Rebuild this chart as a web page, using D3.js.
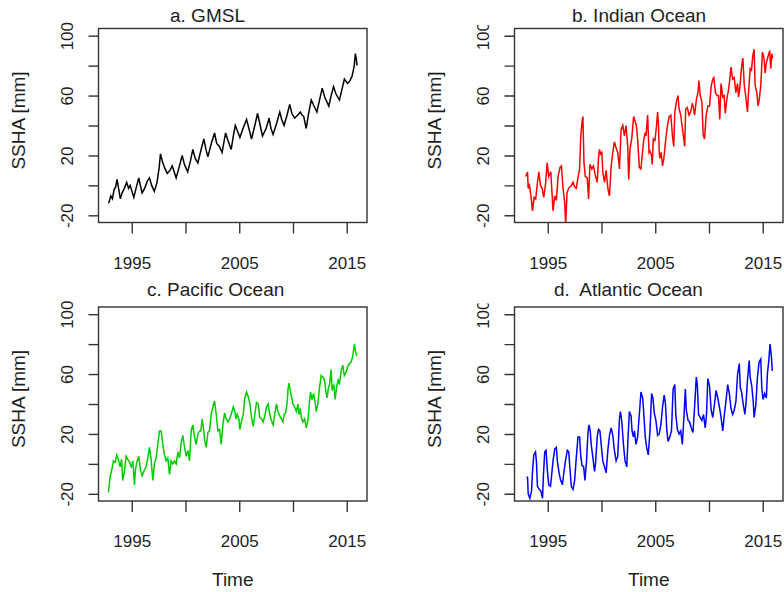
<!DOCTYPE html>
<html>
<head>
<meta charset="utf-8">
<script src="https://cdnjs.cloudflare.com/ajax/libs/d3/7.8.5/d3.min.js"></script>
<style>
  body { margin: 0; background: #fff; }
  svg { display: block; font-family: "Liberation Sans", Arial, sans-serif; }
  text { white-space: pre; }
</style>
</head>
<body>
<svg width="784" height="592"></svg>
<script>
// [decimal year, SSHA mm]
const gmsl = [
  [1992.85,-12],[1993.05,-7],[1993.2,-9],[1993.35,-3],[1993.5,-1],[1993.63,4],[1993.75,-1],[1993.94,-9],
  [1994.1,-5],[1994.3,-2],[1994.53,2],[1994.7,-2],[1994.85,0],[1995.19,-8],[1995.4,-2],[1995.65,5],
  [1995.8,0],[1995.96,-5],[1996.2,-2],[1996.45,3],[1996.65,5],[1996.85,0],[1997.1,-4],[1997.35,2],
  [1997.55,12],[1997.67,21],[1997.85,16],[1998.04,12],[1998.3,8],[1998.55,10],[1998.76,13],[1998.95,9],
  [1999.13,5],[1999.4,12],[1999.69,20],[1999.9,14],[2000.2,9],[2000.45,16],[2000.68,24],[2000.9,18],
  [2001.15,15],[2001.45,24],[2001.71,31],[2001.9,24],[2002.08,19],[2002.4,28],[2002.7,35],[2002.9,28],
  [2003.15,26],[2003.4,22],[2003.73,35],[2003.95,30],[2004.25,24],[2004.45,33],[2004.63,40],[2004.85,36],
  [2005.06,32],[2005.35,38],[2005.68,44],[2005.9,38],[2006.14,31],[2006.45,40],[2006.7,48],[2006.95,40],
  [2007.16,33],[2007.5,38],[2007.78,45],[2007.95,38],[2008.15,34],[2008.5,42],[2008.77,49],[2008.95,44],
  [2009.17,40],[2009.45,47],[2009.69,54],[2009.9,48],[2010.15,45],[2010.45,47],[2010.68,49],[2010.85,47],
  [2011.0,46],[2011.23,38],[2011.45,48],[2011.7,57],[2011.95,53],[2012.22,49],[2012.5,58],[2012.72,65],
  [2012.95,59],[2013.33,53],[2013.55,60],[2013.77,66],[2014.0,61],[2014.32,57],[2014.55,64],[2014.78,71],
  [2015.09,68],[2015.3,70],[2015.5,73],[2015.7,80],[2015.8,88],[2015.9,84],[2015.96,80]
];

const indian = [
  [1992.96,6],[1993.12,9],[1993.18,-2],[1993.3,0],[1993.45,-8],[1993.58,-17],[1993.73,-8],[1993.88,-9],
  [1994.04,2],[1994.17,9],[1994.32,0],[1994.47,-2],[1994.63,-8],[1994.81,2],[1994.94,15],[1995.09,6],
  [1995.28,9],[1995.49,-17],[1995.65,-7],[1995.8,-10],[1995.96,6],[1996.14,12],[1996.27,13],[1996.42,-2],
  [1996.57,-11],[1996.67,-26],[1996.79,-5],[1996.94,-2],[1997.19,0],[1997.35,2],[1997.5,-1],[1997.65,-2],
  [1997.81,5],[1997.96,11],[1998.06,31],[1998.18,42],[1998.27,46],[1998.37,15],[1998.49,6],[1998.67,5],
  [1998.8,-9],[1998.92,14],[1999.1,11],[1999.25,13],[1999.41,7],[1999.6,2],[1999.72,18],[1999.81,24],
  [1999.92,21],[2000.03,22],[2000.12,9],[2000.28,2],[2000.43,10],[2000.59,-2],[2000.74,-7],[2000.9,13],
  [2001.05,22],[2001.2,29],[2001.36,25],[2001.51,22],[2001.67,11],[2001.82,37],[2001.98,40],[2002.13,33],
  [2002.28,40],[2002.44,26],[2002.53,4],[2002.65,24],[2002.81,31],[2002.99,46],[2003.12,43],[2003.24,40],
  [2003.36,31],[2003.52,12],[2003.67,11],[2003.92,30],[2004.05,35],[2004.14,33],[2004.29,47],[2004.42,22],
  [2004.5,23],[2004.66,20],[2004.72,14],[2004.82,31],[2004.97,30],[2005.12,40],[2005.22,49],[2005.3,40],
  [2005.37,22],[2005.43,18],[2005.55,22],[2005.68,13],[2005.8,18],[2005.98,31],[2006.14,40],[2006.29,46],
  [2006.45,47],[2006.6,33],[2006.72,26],[2006.82,49],[2006.97,56],[2007.12,60],[2007.22,51],[2007.37,47],
  [2007.49,40],[2007.62,33],[2007.74,26],[2007.83,51],[2007.98,52],[2008.14,47],[2008.29,49],[2008.45,55],
  [2008.57,51],[2008.66,47],[2008.82,57],[2008.97,62],[2009.06,70],[2009.18,60],[2009.34,56],[2009.46,34],
  [2009.58,31],[2009.74,47],[2009.89,53],[2010.05,53],[2010.2,66],[2010.35,71],[2010.45,72],[2010.6,62],
  [2010.75,60],[2010.88,60],[2011.0,44],[2011.12,68],[2011.28,59],[2011.4,60],[2011.52,48],[2011.68,59],
  [2011.8,63],[2011.92,70],[2012.05,79],[2012.2,71],[2012.35,72],[2012.5,62],[2012.66,68],[2012.75,59],
  [2012.88,66],[2013.03,79],[2013.15,85],[2013.28,67],[2013.43,59],[2013.58,49],[2013.68,62],[2013.83,78],
  [2013.95,77],[2014.08,87],[2014.2,91],[2014.29,67],[2014.45,62],[2014.57,53],[2014.69,58],[2014.82,67],
  [2014.97,89],[2015.12,85],[2015.22,75],[2015.34,82],[2015.49,86],[2015.65,90],[2015.74,78],[2015.86,88],
  [2015.92,85]
];

const pacific = [
  [1992.83,-19],[1992.98,-9],[1993.14,-4],[1993.29,2],[1993.45,1],[1993.6,6],[1993.76,3],[1993.91,-2],
  [1994.05,3],[1994.16,-11],[1994.32,-5],[1994.47,5],[1994.63,3],[1994.8,1],[1994.95,-2],[1995.1,2],
  [1995.25,-14],[1995.34,-4],[1995.5,2],[1995.65,5],[1995.81,-4],[1995.96,-8],[1996.12,-5],[1996.34,-2],
  [1996.49,4],[1996.65,11],[1996.8,3],[1996.96,-11],[1997.11,0],[1997.27,4],[1997.42,13],[1997.58,22],
  [1997.73,22],[1997.89,13],[1998.04,6],[1998.2,2],[1998.35,4],[1998.51,-7],[1998.66,2],[1998.82,0],
  [1998.97,2],[1999.13,0],[1999.29,8],[1999.44,4],[1999.6,14],[1999.75,19],[1999.91,11],[2000.06,5],
  [2000.22,9],[2000.37,2],[2000.53,22],[2000.68,26],[2000.84,18],[2000.99,13],[2001.15,20],[2001.3,22],
  [2001.42,22],[2001.55,30],[2001.68,23],[2001.8,15],[2001.93,11],[2002.08,21],[2002.23,22],[2002.39,33],
  [2002.55,38],[2002.7,42],[2002.86,33],[2003.01,22],[2003.17,23],[2003.32,13],[2003.48,26],[2003.63,34],
  [2003.79,30],[2003.94,28],[2004.1,30],[2004.25,33],[2004.44,38],[2004.6,35],[2004.69,30],[2004.81,33],
  [2004.97,30],[2005.06,23],[2005.22,29],[2005.37,33],[2005.52,44],[2005.68,48],[2005.83,45],[2005.99,40],
  [2006.14,31],[2006.3,25],[2006.45,33],[2006.6,41],[2006.76,40],[2006.91,31],[2007.07,30],[2007.22,28],
  [2007.38,32],[2007.53,38],[2007.69,40],[2007.84,33],[2007.99,29],[2008.15,26],[2008.3,33],[2008.46,40],
  [2008.61,35],[2008.77,32],[2008.92,30],[2009.07,28],[2009.17,33],[2009.32,34],[2009.44,40],[2009.54,50],
  [2009.63,54],[2009.75,49],[2009.88,44],[2010.0,40],[2010.15,38],[2010.31,35],[2010.46,40],[2010.56,33],
  [2010.68,37],[2010.77,31],[2010.93,28],[2011.08,30],[2011.23,24],[2011.39,29],[2011.54,42],[2011.63,48],
  [2011.76,43],[2011.91,47],[2012.04,42],[2012.16,35],[2012.31,40],[2012.47,51],[2012.62,59],[2012.78,58],
  [2012.93,56],[2013.09,47],[2013.18,44],[2013.3,51],[2013.4,53],[2013.55,63],[2013.64,49],[2013.8,53],
  [2013.92,43],[2014.07,52],[2014.2,56],[2014.32,53],[2014.48,62],[2014.63,66],[2014.78,59],[2014.94,61],
  [2015.09,65],[2015.25,67],[2015.4,68],[2015.56,72],[2015.71,80],[2015.8,76],[2015.93,72]
];

const atlantic = [
  [1993.02,-9],[1993.12,-9],[1993.18,-20],[1993.33,-23],[1993.49,-18],[1993.58,-5],[1993.7,6],[1993.86,8],
  [1993.95,1],[1994.04,-15],[1994.2,-17],[1994.35,-18],[1994.51,-23],[1994.6,-7],[1994.72,8],[1994.84,9],
  [1994.97,-5],[1995.09,-14],[1995.25,-15],[1995.34,-9],[1995.49,2],[1995.65,10],[1995.8,11],[1995.89,2],
  [1996.05,-6],[1996.2,-11],[1996.36,-14],[1996.51,-5],[1996.67,3],[1996.82,9],[1996.95,8],[1997.04,-1],
  [1997.19,-15],[1997.35,-17],[1997.5,-11],[1997.65,4],[1997.81,18],[1997.96,18],[1998.06,6],[1998.18,-1],
  [1998.34,-2],[1998.46,-11],[1998.61,2],[1998.73,20],[1998.83,26],[1998.95,22],[1999.04,13],[1999.2,4],
  [1999.35,-5],[1999.44,0],[1999.6,18],[1999.72,23],[1999.85,22],[1999.97,13],[2000.12,2],[2000.28,-2],
  [2000.43,-6],[2000.59,9],[2000.74,19],[2000.9,24],[2001.05,19],[2001.2,9],[2001.36,2],[2001.51,5],
  [2001.67,30],[2001.76,35],[2001.88,29],[2002.04,13],[2002.19,2],[2002.35,-2],[2002.44,13],[2002.59,35],
  [2002.75,32],[2002.84,22],[2002.96,18],[2003.06,22],[2003.21,13],[2003.36,18],[2003.52,33],[2003.67,48],
  [2003.83,44],[2003.92,35],[2004.07,18],[2004.2,11],[2004.35,6],[2004.51,22],[2004.66,47],[2004.78,44],
  [2004.91,34],[2005.06,29],[2005.22,19],[2005.37,20],[2005.52,26],[2005.68,38],[2005.83,46],[2005.95,40],
  [2006.08,22],[2006.2,15],[2006.35,18],[2006.51,22],[2006.66,50],[2006.82,53],[2006.91,33],[2007.06,23],
  [2007.22,20],[2007.37,22],[2007.52,13],[2007.68,33],[2007.8,50],[2007.89,36],[2008.05,29],[2008.2,28],
  [2008.35,24],[2008.51,21],[2008.66,38],[2008.82,58],[2008.91,53],[2009.03,33],[2009.18,31],[2009.34,29],
  [2009.49,33],[2009.65,24],[2009.77,33],[2009.89,57],[2010.05,52],[2010.2,36],[2010.35,31],[2010.51,40],
  [2010.66,49],[2010.82,44],[2010.97,38],[2011.12,31],[2011.28,22],[2011.43,33],[2011.58,42],[2011.74,53],
  [2011.89,47],[2012.05,37],[2012.2,33],[2012.35,36],[2012.51,42],[2012.66,60],[2012.82,67],[2012.91,51],
  [2013.03,48],[2013.18,40],[2013.34,33],[2013.46,42],[2013.58,56],[2013.74,69],[2013.83,58],[2013.98,52],
  [2014.11,42],[2014.2,31],[2014.35,39],[2014.51,58],[2014.66,68],[2014.82,70],[2014.91,51],[2015.03,43],
  [2015.18,47],[2015.34,44],[2015.43,60],[2015.55,68],[2015.68,80],[2015.8,72],[2015.89,62]
];

const yTicks = [-20, 0, 20, 40, 60, 80, 100];
const yTickLabels = ["-20", "", "20", "", "60", "", "100"];
const xTicks = [1995, 2000, 2005, 2010, 2015];
const xTickLabels = ["1995", "", "2005", "", "2015"];
const yLimits = [-20, 100];

const panels = [
  {title: "a. GMSL",            data: gmsl,     color: "#000000", left: 98.5,  top: 28.5,  titleX: 170, titleY: 22,  right: false, xlab: false},
  {title: "b. Indian Ocean",    data: indian,   color: "#ff0000", left: 514.5, top: 28.5,  titleX: 572, titleY: 22,  right: true,  xlab: false},
  {title: "c. Pacific Ocean",   data: pacific,  color: "#00cd00", left: 98.5,  top: 307,   titleX: 147, titleY: 296, right: false, xlab: true},
  {title: "d.  Atlantic Ocean", data: atlantic, color: "#0000ff", left: 514.5, top: 307,   titleX: 554, titleY: 296, right: true,  xlab: true}
];
const W = 268.5, H = 194;

const svg = d3.select("svg");
const ink = "#1e1e1e";

// R style: 4% padding on both axes
const allT = [gmsl, indian, pacific, atlantic].flat().map(d => d[0]);
const tMin = d3.min(allT), tMax = d3.max(allT);
const tPad = (tMax - tMin) * 0.04;
const yPad = (yLimits[1] - yLimits[0]) * 0.04;

panels.forEach(function(p, i) {
  const x = d3.scaleLinear().domain([tMin - tPad, tMax + tPad]).range([0, W]);
  const y = d3.scaleLinear().domain([yLimits[0] - yPad, yLimits[1] + yPad]).range([H, 0]);

  const g = svg.append("g").attr("transform", "translate(" + p.left + "," + p.top + ")");

  g.append("clipPath").attr("id", "clip" + i)
    .append("rect").attr("width", W).attr("height", H);

  const line = d3.line().x(d => x(d[0])).y(d => y(d[1]));
  g.append("path")
    .datum(p.data)
    .attr("clip-path", "url(#clip" + i + ")")
    .attr("fill", "none")
    .attr("stroke", p.color)
    .attr("stroke-width", 1.5)
    .attr("d", line);

  g.append("rect")
    .attr("width", W).attr("height", H)
    .attr("fill", "none").attr("stroke", "#333").attr("stroke-width", 1.4);

  // x axis
  const xa = g.append("g").attr("transform", "translate(0," + H + ")")
    .call(d3.axisBottom(x).tickValues(xTicks).tickSize(11).tickFormat((d, k) => xTickLabels[k]));
  xa.select(".domain").remove();
  xa.selectAll("line").attr("stroke", "#333").attr("stroke-width", 1.4);
  xa.selectAll("text").attr("fill", ink).attr("font-size", 17).attr("font-family", null).attr("dy", null).attr("y", 46);

  // y axis
  const ya = g.append("g")
    .call(d3.axisLeft(y).tickValues(yTicks).tickSize(10).tickFormat((d, k) => yTickLabels[k]));
  ya.select(".domain").remove();
  ya.selectAll("line").attr("stroke", "#333").attr("stroke-width", 1.4);
  ya.selectAll("text")
    .attr("fill", ink).attr("font-size", 17).attr("font-family", null)
    .attr("x", null).attr("dy", null)
    .attr("text-anchor", "middle")
    .attr("transform", "translate(-26,0) rotate(-90)");

  if (p.right) {
    // right-hand panels have their top y label cut in the reference
    g.append("clipPath").attr("id", "yclip" + i)
      .append("rect").attr("x", -60).attr("y", -3.5).attr("width", 60).attr("height", H + 30);
    ya.attr("clip-path", "url(#yclip" + i + ")");
  }

  g.append("text")
    .attr("transform", "translate(-74," + (H / 2 - 5) + ") rotate(-90)")
    .attr("text-anchor", "middle")
    .attr("fill", ink).attr("font-size", 19)
    .text("SSHA [mm]");

  if (p.xlab) {
    g.append("text")
      .attr("x", W / 2).attr("y", H + 85)
      .attr("text-anchor", "middle")
      .attr("fill", ink).attr("font-size", 19)
      .text("Time");
  }

  svg.append("text")
    .attr("x", p.titleX).attr("y", p.titleY)
    .attr("fill", ink).attr("font-size", 19)
    .text(p.title);
});
</script>
</body>
</html>
